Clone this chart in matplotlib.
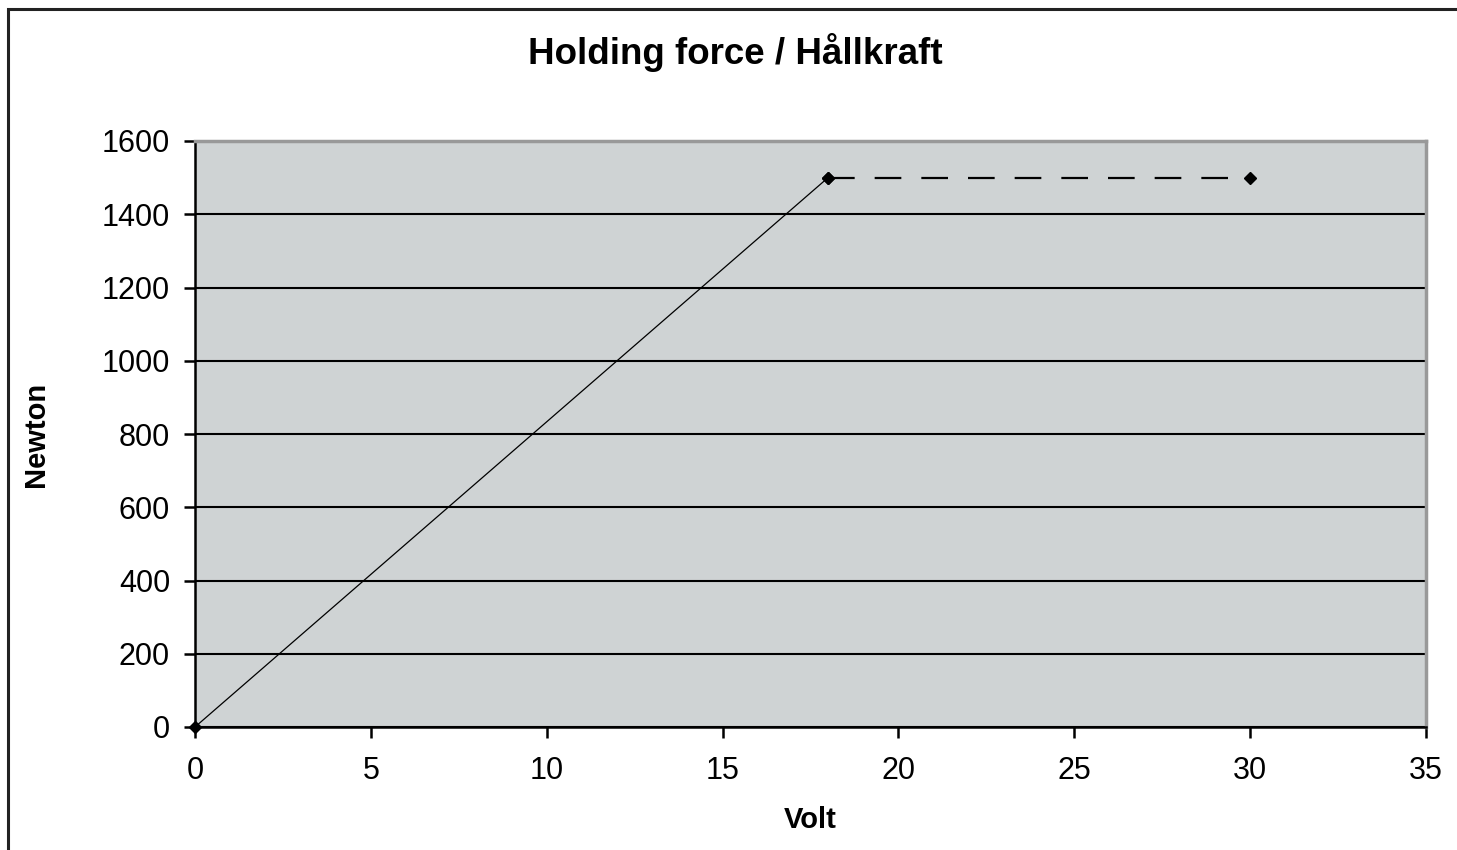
import matplotlib.pyplot as plt
from matplotlib.patches import Rectangle

# data
volt_rise = [0, 18]
force_rise = [0, 1500]
volt_hold = [18, 30]
force_hold = [1500, 1500]
x_ticks = [0, 5, 10, 15, 20, 25, 30, 35]
y_ticks = [0, 200, 400, 600, 800, 1000, 1200, 1400, 1600]

plt.rcParams["font.family"] = ["Liberation Sans", "DejaVu Sans"]

W, H = 1457, 850
fig = plt.figure(figsize=(W / 100, H / 100), dpi=100)
fig.patches.append(Rectangle((8 / W, -0.05), 1.2, 1 - 9 / H + 0.05,
                             transform=fig.transFigure, fill=False,
                             edgecolor="#222222", linewidth=2.2))

ax = fig.add_axes([195 / W, 1 - 727 / H, (1426 - 195) / W, (727 - 141) / H])
ax.set_facecolor("#cfd3d4")
ax.set_xlim(0, 35)
ax.set_ylim(0, 1600)
ax.set_xticks(x_ticks)
ax.set_yticks(y_ticks)
ax.yaxis.grid(True, color="black", linewidth=1.5)
ax.set_axisbelow(True)

for side in ("top", "right"):
    ax.spines[side].set_color("#999999")
    ax.spines[side].set_linewidth(2.5)
for side in ("left", "bottom"):
    ax.spines[side].set_color("black")
    ax.spines[side].set_linewidth(1.8)

ax.tick_params(axis="both", direction="out", length=8, width=1.8,
               labelsize=22, colors="black")
ax.tick_params(axis="x", pad=13)
ax.tick_params(axis="y", pad=10)

ax.plot(volt_rise, force_rise, color="black", linewidth=0.9,
        marker="D", markersize=6.5, clip_on=False, zorder=3)
ax.plot(volt_hold, force_hold, color="black", linewidth=1.6,
        dashes=(12, 9), marker="D", markersize=6.5, clip_on=False, zorder=3)

ax.set_xlabel("Volt", fontsize=21, fontweight="bold", labelpad=14)
ax.set_ylabel("Newton", fontsize=21, fontweight="bold", labelpad=37)
fig.text(735 / W, 1 - 53 / H, "Holding force / Hållkraft", fontsize=26.5,
         fontweight="bold", ha="center", va="center")

fig.savefig("out.png", dpi=100)
